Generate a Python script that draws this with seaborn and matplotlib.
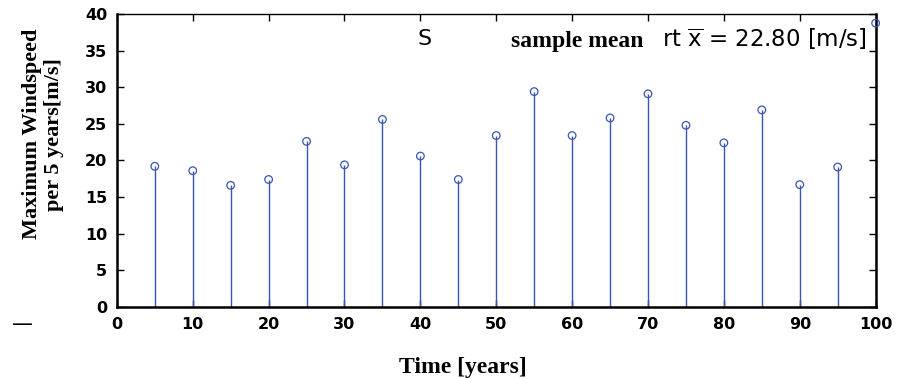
import matplotlib
matplotlib.use("Agg")
import matplotlib.pyplot as plt
import seaborn as sns
import pandas as pd

# data
years = [5, 10, 15, 20, 25, 30, 35, 40, 45, 50, 55, 60, 65, 70, 75, 80, 85, 90, 95, 100]
max_speed = [19.2, 18.6, 16.6, 17.4, 22.6, 19.4, 25.6, 20.6, 17.4, 23.4,
             29.4, 23.4, 25.8, 29.1, 24.8, 22.4, 26.9, 16.7, 19.1, 38.75]
x_ticks = [0, 10, 20, 30, 40, 50, 60, 70, 80, 90, 100]
y_ticks = [0, 5, 10, 15, 20, 25, 30, 35, 40]

df = pd.DataFrame({"year": years, "speed": max_speed})

sns.set_style("ticks")
plt.rcParams["mathtext.fontset"] = "dejavusans"
plt.rcParams["text.color"] = "black"
plt.rcParams["axes.labelcolor"] = "black"
plt.rcParams["xtick.color"] = "black"
plt.rcParams["ytick.color"] = "black"

fig = plt.figure(figsize=(8.99, 3.78), dpi=100)
ax = fig.add_axes([0.130, 0.188, 0.844, 0.775])

stem_color = "#3a55b4"
ax.vlines(df["year"], 0, df["speed"], color=stem_color, linewidth=1.0, zorder=2)
sns.scatterplot(data=df, x="year", y="speed", ax=ax, marker="o", s=30,
                facecolor="none", edgecolor=stem_color, linewidth=0.9,
                zorder=3, clip_on=False)

ax.set_xlim(0, 100)
ax.set_ylim(0, 40)
ax.set_xticks(x_ticks)
ax.set_yticks(y_ticks)
ax.tick_params(direction="in", top=True, right=True, length=5, width=1,
               labelsize=11.5, pad=7)
for lab in ax.get_xticklabels() + ax.get_yticklabels():
    lab.set_fontfamily("DejaVu Sans")
    lab.set_fontweight("bold")

for side in ["left", "bottom", "right"]:
    ax.spines[side].set_linewidth(1.8)
    ax.spines[side].set_color("black")
ax.spines["top"].set_linewidth(1.0)
ax.spines["top"].set_color("black")

ax.set_xlabel("Time [years]", family="Liberation Serif", weight="bold", size=17)
ax.xaxis.set_label_coords(0.456, -0.17)
ax.set_ylabel("Maximum Windspeed\nper 5 years[m/s]", family="Liberation Serif",
              weight="bold", size=16, linespacing=1.15)
ax.yaxis.set_label_coords(-0.07, 0.59)

# header text inside the plot
ax.text(0.396, 0.915, "S", transform=ax.transAxes, fontsize=16,
        family="DejaVu Sans", ha="left", va="center")
ax.text(0.520, 0.905, "sample mean", transform=ax.transAxes, fontsize=17,
        family="Liberation Serif", weight="bold", ha="left", va="center")
ax.text(0.718, 0.915, r"rt $\overline{\mathrm{x}}$ = 22.80 [m/s]", transform=ax.transAxes,
        fontsize=16.5, family="DejaVu Sans", ha="left", va="center")

fig.text(0.025, 0.143, "\u2014", fontsize=15, ha="center", va="center")

fig.savefig("out.png", dpi=100)
